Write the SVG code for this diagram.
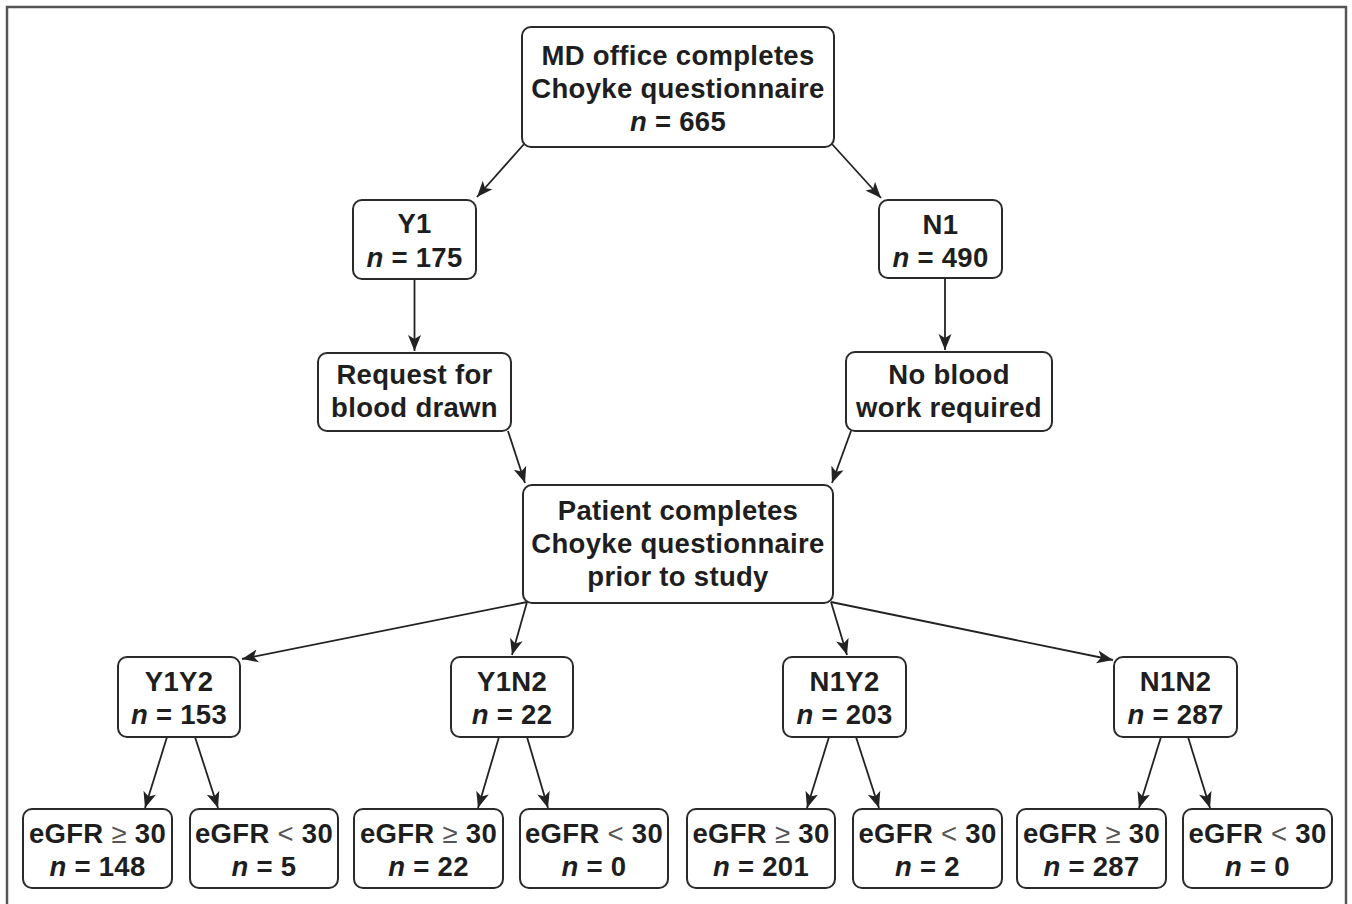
<svg xmlns="http://www.w3.org/2000/svg" width="1352" height="904" viewBox="0 0 1352 904">
<style>
.box{fill:#fff;stroke:#2a2a2a;stroke-width:2}
.t{font-family:"Liberation Sans",Arial,sans-serif;font-weight:bold;font-size:27.5px;letter-spacing:0.3px;fill:#1e1e1e;text-anchor:middle}
.i{font-style:italic}
.s{font-weight:normal;fill:#555}
.c{stroke:#222;stroke-width:1.8;fill:none;marker-end:url(#ah)}
</style>
<defs>
<marker id="ah" markerUnits="userSpaceOnUse" markerWidth="18" markerHeight="14" refX="16" refY="7" orient="auto">
<path d="M0,0.5 L16,7 L0,13.5 L4,7 Z" fill="#222"/>
</marker>
</defs>
<rect width="1352" height="904" fill="#fff"/>
<rect x="7" y="7" width="1339" height="912" fill="none" stroke="#555" stroke-width="2.5"/>
<g id="connectors">
<line class="c" x1="525" y1="143" x2="477" y2="197"/>
<line class="c" x1="831" y1="143" x2="881" y2="198"/>
<line class="c" x1="414.5" y1="279" x2="414.5" y2="351"/>
<line class="c" x1="945" y1="278" x2="945" y2="350"/>
<line class="c" x1="508" y1="431" x2="525" y2="483"/>
<line class="c" x1="851" y1="431" x2="832" y2="483"/>
<line class="c" x1="527" y1="602" x2="242" y2="659"/>
<line class="c" x1="527" y1="602" x2="512" y2="655"/>
<line class="c" x1="831" y1="602" x2="847" y2="655"/>
<line class="c" x1="831" y1="602" x2="1113" y2="660"/>
<line class="c" x1="167" y1="737" x2="145" y2="808"/>
<line class="c" x1="195" y1="737" x2="218" y2="808"/>
<line class="c" x1="499" y1="737" x2="478" y2="808"/>
<line class="c" x1="527" y1="737" x2="548" y2="808"/>
<line class="c" x1="829" y1="737" x2="807" y2="808"/>
<line class="c" x1="856" y1="737" x2="879" y2="808"/>
<line class="c" x1="1161" y1="737" x2="1139" y2="808"/>
<line class="c" x1="1188" y1="737" x2="1210" y2="808"/>
</g>
<g id="top">
<rect class="box" x="522" y="27" width="312" height="120" rx="9"/>
<text class="t" x="678" y="65">MD office completes</text>
<text class="t" x="678" y="98">Choyke questionnaire</text>
<text class="t" x="678" y="131"><tspan class="i">n</tspan> = 665</text>
</g>
<g id="Y1">
<rect class="box" x="353" y="200" width="123" height="79" rx="9"/>
<text class="t" x="414.5" y="233">Y1</text>
<text class="t" x="414.5" y="267"><tspan class="i">n</tspan> = 175</text>
</g>
<g id="N1">
<rect class="box" x="879" y="200" width="123" height="78" rx="9"/>
<text class="t" x="940.5" y="234">N1</text>
<text class="t" x="940.5" y="267"><tspan class="i">n</tspan> = 490</text>
</g>
<g id="request">
<rect class="box" x="318" y="353" width="193" height="78" rx="9"/>
<text class="t" x="414.5" y="384">Request for</text>
<text class="t" x="414.5" y="417">blood drawn</text>
</g>
<g id="noblood">
<rect class="box" x="846" y="352" width="206" height="79" rx="9"/>
<text class="t" x="949" y="384">No blood</text>
<text class="t" x="949" y="417">work required</text>
</g>
<g id="patient">
<rect class="box" x="523" y="485" width="310" height="118" rx="9"/>
<text class="t" x="678" y="520">Patient completes</text>
<text class="t" x="678" y="553">Choyke questionnaire</text>
<text class="t" x="678" y="586">prior to study</text>
</g>
<g id="Y1Y2">
<rect class="box" x="118" y="657" width="122" height="80" rx="9"/>
<text class="t" x="179" y="691">Y1Y2</text>
<text class="t" x="179" y="724"><tspan class="i">n</tspan> = 153</text>
</g>
<g id="Y1N2">
<rect class="box" x="451" y="657" width="122" height="80" rx="9"/>
<text class="t" x="512" y="691">Y1N2</text>
<text class="t" x="512" y="724"><tspan class="i">n</tspan> = 22</text>
</g>
<g id="N1Y2">
<rect class="box" x="783" y="657" width="123" height="80" rx="9"/>
<text class="t" x="844.5" y="691">N1Y2</text>
<text class="t" x="844.5" y="724"><tspan class="i">n</tspan> = 203</text>
</g>
<g id="N1N2">
<rect class="box" x="1114" y="657" width="123" height="80" rx="9"/>
<text class="t" x="1175.5" y="691">N1N2</text>
<text class="t" x="1175.5" y="724"><tspan class="i">n</tspan> = 287</text>
</g>
<g id="Y1Y2a">
<rect class="box" x="23" y="809" width="149" height="79" rx="9"/>
<text class="t" x="97.5" y="843">eGFR <tspan class="s">≥</tspan> 30</text>
<text class="t" x="97.5" y="876"><tspan class="i">n</tspan> = 148</text>
</g>
<g id="Y1Y2b">
<rect class="box" x="190" y="809" width="148" height="79" rx="9"/>
<text class="t" x="264" y="843">eGFR <tspan class="s">&lt;</tspan> 30</text>
<text class="t" x="264" y="876"><tspan class="i">n</tspan> = 5</text>
</g>
<g id="Y1N2a">
<rect class="box" x="354" y="809" width="149" height="79" rx="9"/>
<text class="t" x="428.5" y="843">eGFR <tspan class="s">≥</tspan> 30</text>
<text class="t" x="428.5" y="876"><tspan class="i">n</tspan> = 22</text>
</g>
<g id="Y1N2b">
<rect class="box" x="520" y="809" width="148" height="79" rx="9"/>
<text class="t" x="594" y="843">eGFR <tspan class="s">&lt;</tspan> 30</text>
<text class="t" x="594" y="876"><tspan class="i">n</tspan> = 0</text>
</g>
<g id="N1Y2a">
<rect class="box" x="687" y="809" width="148" height="79" rx="9"/>
<text class="t" x="761" y="843">eGFR <tspan class="s">≥</tspan> 30</text>
<text class="t" x="761" y="876"><tspan class="i">n</tspan> = 201</text>
</g>
<g id="N1Y2b">
<rect class="box" x="853" y="809" width="149" height="79" rx="9"/>
<text class="t" x="927.5" y="843">eGFR <tspan class="s">&lt;</tspan> 30</text>
<text class="t" x="927.5" y="876"><tspan class="i">n</tspan> = 2</text>
</g>
<g id="N1N2a">
<rect class="box" x="1017" y="809" width="149" height="79" rx="9"/>
<text class="t" x="1091.5" y="843">eGFR <tspan class="s">≥</tspan> 30</text>
<text class="t" x="1091.5" y="876"><tspan class="i">n</tspan> = 287</text>
</g>
<g id="N1N2b">
<rect class="box" x="1183" y="809" width="149" height="79" rx="9"/>
<text class="t" x="1257.5" y="843">eGFR <tspan class="s">&lt;</tspan> 30</text>
<text class="t" x="1257.5" y="876"><tspan class="i">n</tspan> = 0</text>
</g>
</svg>
